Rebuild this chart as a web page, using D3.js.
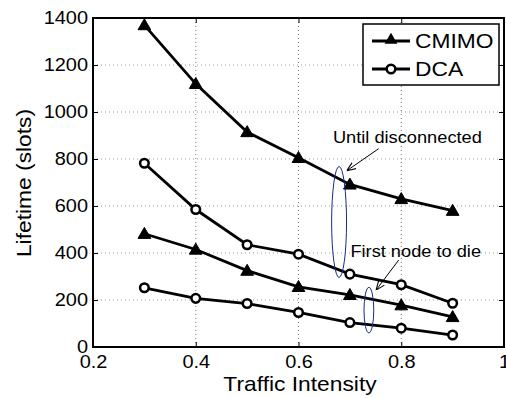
<!DOCTYPE html>
<html>
<head>
<meta charset="utf-8">
<script src="https://cdn.jsdelivr.net/npm/d3@7"></script>
<style>
body { margin: 0; background: #fff; }
text { font-family: "Liberation Sans", Arial, sans-serif; fill: #000; }
</style>
</head>
<body>
<div id="chart"></div>
<script>
// traffic intensity values on the x axis
var intensity = [0.3, 0.4, 0.5, 0.6, 0.7, 0.8, 0.9];
// lifetime until disconnected
var cmimoDisc = [1370, 1120, 915, 805, 692, 630, 580];
var dcaDisc = [782, 585, 435, 395, 310, 265, 186];
// lifetime until first node dies
var cmimoFirst = [482, 415, 325, 256, 222, 178, 128];
var dcaFirst = [252, 207, 185, 147, 104, 80, 51];

var xTicks = [0.2, 0.4, 0.6, 0.8, 1];
var yTicks = [0, 200, 400, 600, 800, 1000, 1200, 1400];

var margin = {top: 18, right: 2, bottom: 51, left: 93};
var width = 506 - margin.left - margin.right;
var height = 398 - margin.top - margin.bottom;
var stretch = 1.14; // the fonts in the picture are a bit wide

var svg = d3.select("#chart").append("svg")
    .attr("width", 506)
    .attr("height", 398)
    .append("g")
    .attr("transform", "translate(" + margin.left + "," + margin.top + ")");

var x = d3.scaleLinear().domain([0.2, 1]).range([0, width]);
var y = d3.scaleLinear().domain([0, 1400]).range([height, 0]);

// dotted grid
svg.selectAll(".vgrid")
    .data(xTicks.slice(1, -1))
    .enter().append("line")
    .attr("x1", function (d) { return x(d); })
    .attr("x2", function (d) { return x(d); })
    .attr("y1", 0)
    .attr("y2", height)
    .attr("stroke", "#777")
    .attr("stroke-width", 1)
    .attr("stroke-dasharray", "1,3");

svg.selectAll(".hgrid")
    .data(yTicks.slice(1, -1))
    .enter().append("line")
    .attr("x1", 0)
    .attr("x2", width)
    .attr("y1", function (d) { return y(d); })
    .attr("y2", function (d) { return y(d); })
    .attr("stroke", "#999")
    .attr("stroke-width", 1)
    .attr("stroke-dasharray", "1,3");

// axes with inward ticks on all four sides
var xAxis = svg.append("g")
    .attr("transform", "translate(0," + height + ")")
    .call(d3.axisBottom(x).tickValues(xTicks).tickSizeInner(-5).tickSizeOuter(0)
        .tickFormat(function (d) { return d === 1 ? "1" : d3.format(".1f")(d); }));
xAxis.selectAll("text")
    .attr("y", 21)
    .attr("dy", 0)
    .attr("transform", "scale(" + stretch + ",1)")
    .style("font-size", "17.5px");

var yAxis = svg.append("g")
    .call(d3.axisLeft(y).tickValues(yTicks).tickSizeInner(-5).tickSizeOuter(0)
        .tickFormat(d3.format("d")));
yAxis.selectAll("text")
    .attr("x", -5 / stretch)
    .attr("transform", "scale(" + stretch + ",1)")
    .style("font-size", "17.5px");

svg.append("g")
    .call(d3.axisTop(x).tickValues(xTicks).tickSizeInner(-5).tickSizeOuter(0).tickFormat(""));
svg.append("g")
    .attr("transform", "translate(" + width + ",0)")
    .call(d3.axisRight(y).tickValues(yTicks).tickSizeInner(-5).tickSizeOuter(0).tickFormat(""));

svg.selectAll(".domain").remove();
svg.selectAll(".tick line").attr("stroke", "#000").attr("stroke-width", 1);

svg.append("rect")
    .attr("x", 0)
    .attr("y", 0)
    .attr("width", width)
    .attr("height", height)
    .attr("fill", "none")
    .attr("stroke", "#000")
    .attr("stroke-width", 2);

// series
var line = d3.line()
    .x(function (d) { return x(d[0]); })
    .y(function (d) { return y(d[1]); });

var series = [
    {vals: cmimoDisc, marker: "tri"},
    {vals: dcaDisc, marker: "circ"},
    {vals: cmimoFirst, marker: "tri"},
    {vals: dcaFirst, marker: "circ"}
];

var triangle = d3.symbol().type(d3.symbolTriangle).size(70);

series.forEach(function (s) {
    var pts = intensity.map(function (t, i) { return [t, s.vals[i]]; });
    svg.append("path")
        .datum(pts)
        .attr("d", line)
        .attr("fill", "none")
        .attr("stroke", "#000")
        .attr("stroke-width", 2.8);
    if (s.marker === "tri") {
        svg.selectAll(null)
            .data(pts)
            .enter().append("path")
            .attr("d", triangle)
            .attr("transform", function (d) { return "translate(" + x(d[0]) + "," + (y(d[1]) + 1) + ")"; })
            .attr("fill", "#000")
            .attr("stroke", "#000")
            .attr("stroke-width", 1);
    } else {
        svg.selectAll(null)
            .data(pts)
            .enter().append("circle")
            .attr("cx", function (d) { return x(d[0]); })
            .attr("cy", function (d) { return y(d[1]); })
            .attr("r", 4.3)
            .attr("fill", "#fff")
            .attr("stroke", "#000")
            .attr("stroke-width", 2.5);
    }
});

// annotations
var ellipses = [
    {cx: 0.679, cy: 532, rx: 0.0145, ry: 236},
    {cx: 0.737, cy: 157, rx: 0.0095, ry: 97}
];
svg.selectAll(".ell")
    .data(ellipses)
    .enter().append("ellipse")
    .attr("cx", function (d) { return x(d.cx); })
    .attr("cy", function (d) { return y(d.cy); })
    .attr("rx", function (d) { return x(d.cx + d.rx) - x(d.cx); })
    .attr("ry", function (d) { return y(0) - y(d.ry); })
    .attr("fill", "none")
    .attr("stroke", "#1a2a8c")
    .attr("stroke-width", 1);

svg.append("defs").append("marker")
    .attr("id", "head")
    .attr("viewBox", "0 0 10 10")
    .attr("refX", 10)
    .attr("refY", 5)
    .attr("markerWidth", 9)
    .attr("markerHeight", 9)
    .attr("markerUnits", "userSpaceOnUse")
    .attr("orient", "auto")
    .append("path")
    .attr("d", "M0,1 L10,5 L0,9")
    .attr("fill", "none")
    .attr("stroke", "#000")
    .attr("stroke-width", 1.2);

var arrows = [
    {x1: 0.756, y1: 844, x2: 0.694, y2: 750},
    {x1: 0.795, y1: 370, x2: 0.751, y2: 242}
];
svg.selectAll(".arr")
    .data(arrows)
    .enter().append("line")
    .attr("x1", function (d) { return x(d.x1); })
    .attr("y1", function (d) { return y(d.y1); })
    .attr("x2", function (d) { return x(d.x2); })
    .attr("y2", function (d) { return y(d.y2); })
    .attr("stroke", "#000")
    .attr("stroke-width", 1)
    .attr("marker-end", "url(#head)");

var notes = [
    {text: "Until disconnected", tx: 0.667, ty: 868},
    {text: "First node to die", tx: 0.701, ty: 382}
];
svg.selectAll(".note")
    .data(notes)
    .enter().append("text")
    .attr("transform", function (d) {
        return "translate(" + x(d.tx) + "," + y(d.ty) + ") scale(" + stretch + ",1)";
    })
    .style("font-size", "16px")
    .text(function (d) { return d.text; });

// legend
var legend = svg.append("g")
    .attr("transform", "translate(" + (363 - margin.left) + "," + (24 - margin.top) + ")");
legend.append("rect")
    .attr("width", 136)
    .attr("height", 61)
    .attr("fill", "#fff")
    .attr("stroke", "#000")
    .attr("stroke-width", 1.5);

var legendItems = [
    {name: "CMIMO", marker: "tri"},
    {name: "DCA", marker: "circ"}
];
legendItems.forEach(function (it, i) {
    var ly = 17 + i * 28;
    legend.append("line")
        .attr("x1", 9).attr("x2", 47)
        .attr("y1", ly).attr("y2", ly)
        .attr("stroke", "#000")
        .attr("stroke-width", 2.8);
    if (it.marker === "tri") {
        legend.append("path")
            .attr("d", triangle)
            .attr("transform", "translate(28," + (ly - 1) + ")")
            .attr("fill", "#000");
    } else {
        legend.append("circle")
            .attr("cx", 28).attr("cy", ly).attr("r", 4.3)
            .attr("fill", "#fff").attr("stroke", "#000").attr("stroke-width", 2.5);
    }
    legend.append("text")
        .attr("transform", "translate(52," + (ly + 7) + ") scale(" + stretch + ",1)")
        .style("font-size", "20px")
        .text(it.name);
});

// axis titles
svg.append("text")
    .attr("transform", "translate(" + (300 - margin.left) + "," + (391 - margin.top) + ") scale(" + stretch + ",1)")
    .style("text-anchor", "middle")
    .style("font-size", "20px")
    .text("Traffic Intensity");

svg.append("text")
    .attr("transform", "translate(" + (31 - margin.left) + "," + (183 - margin.top) + ") rotate(-90) scale(" + stretch + ",1)")
    .style("text-anchor", "middle")
    .style("font-size", "20px")
    .text("Lifetime (slots)");
</script>
</body>
</html>
